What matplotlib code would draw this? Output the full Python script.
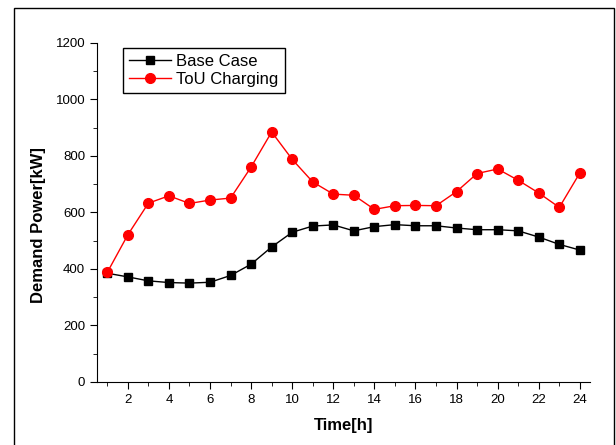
import matplotlib
matplotlib.use('Agg')
import matplotlib.pyplot as plt
from matplotlib.patches import Rectangle
from matplotlib.ticker import MultipleLocator

plt.rcParams['font.family'] = ['Liberation Sans', 'DejaVu Sans']

# hourly demand values
hours = list(range(1, 25))
base_case = [385, 372, 358, 352, 350, 353, 377, 417, 478, 530, 552, 556,
             535, 550, 557, 553, 553, 545, 539, 539, 535, 513, 487, 467]
tou_charging = [388, 521, 633, 659, 632, 644, 651, 761, 885, 788, 708, 665,
                661, 611, 624, 625, 624, 674, 738, 754, 714, 669, 618, 740]

fig = plt.figure(figsize=(6.16, 4.45), dpi=100)
ax = fig.add_axes([0.1575, 0.1416, 0.8005, 0.7618])

# outer frame around the figure
fig.patches.append(Rectangle((14 / 616, -0.05), 600 / 616, 1.05 - 8 / 445,
                             transform=fig.transFigure, fill=False,
                             edgecolor='black', linewidth=1.0))

ax.plot(hours, base_case, color='black', marker='s', markersize=6,
        linewidth=1.0, label='Base Case')
ax.plot(hours, tou_charging, color='red', marker='o', markersize=7,
        linewidth=1.0, label='ToU Charging')

ax.set_xlim(0.5, 24.5)
ax.set_ylim(0, 1200)
ax.xaxis.set_major_locator(MultipleLocator(2))
ax.xaxis.set_minor_locator(MultipleLocator(1))
ax.yaxis.set_major_locator(MultipleLocator(200))
ax.yaxis.set_minor_locator(MultipleLocator(100))
ax.set_xticks(list(range(2, 25, 2)))
ax.tick_params(which='both', direction='out', labelsize=9.5)
ax.tick_params(which='major', length=5)
ax.tick_params(which='minor', length=3)
ax.spines['top'].set_visible(False)
ax.spines['right'].set_visible(False)

ax.set_xlabel('Time[h]', fontsize=12, fontweight='bold', labelpad=9)
ax.set_ylabel('Demand Power[kW]', fontsize=12, fontweight='bold')
ax.yaxis.set_label_coords(-0.104, 0.463)

leg = ax.legend(loc='upper left', bbox_to_anchor=(0.053, 0.985), fontsize=12,
                fancybox=False, edgecolor='black', framealpha=1,
                handlelength=2.5, handletextpad=0.35, borderpad=0.35,
                labelspacing=0.2, borderaxespad=0)
leg.get_frame().set_linewidth(1.0)

fig.savefig('out.png', dpi=100)
